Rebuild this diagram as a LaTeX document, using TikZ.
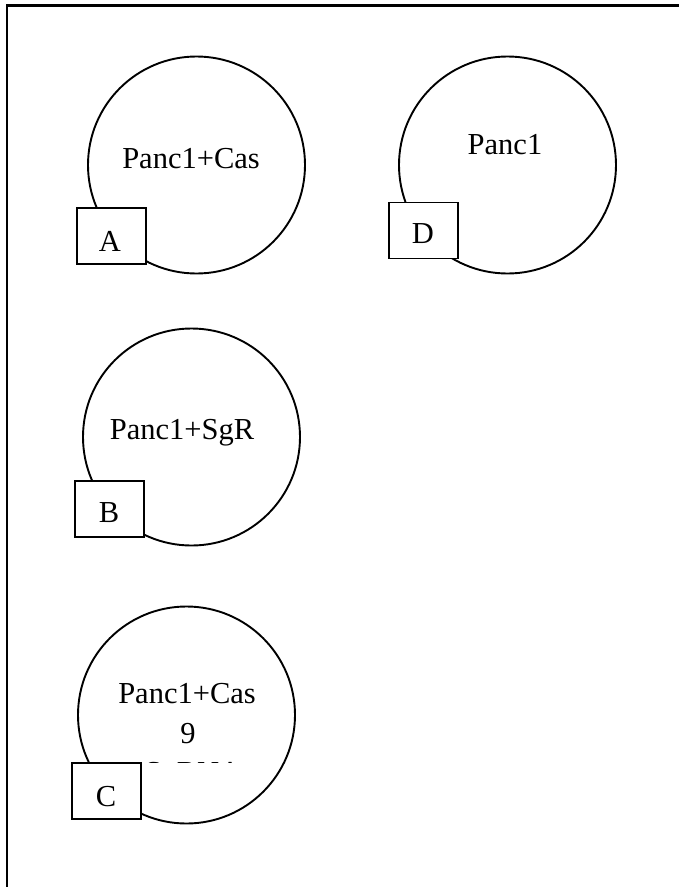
\documentclass[tikz,border=0pt]{standalone}
\usepackage{fontspec}
\setmainfont{Liberation Serif}
\tikzset{
  ring/.style={draw, line width=1.9pt, circle, minimum size=217pt, inner sep=0pt},
  tagbox/.style={draw, line width=1.9pt, fill=white, rectangle, minimum width=69pt, minimum height=56pt, inner sep=0pt},
  txt/.style={anchor=base, inner sep=0pt, font=\fontsize{30.5}{40}\selectfont},
  frameline/.style={line width=2.4pt}
}
\begin{document}
\begin{tikzpicture}[x=1pt, y=-1pt]
\useasboundingbox (0,0) rectangle (678,887);
\fill[white] (0,0) rectangle (678,887);
% outer frame (top and left edges)
\coordinate (ftl) at (7,5.5);
\coordinate (ftr) at (680,5.5);
\coordinate (fbl) at (7,890);
\draw[frameline] (ftr) -- (ftl) -- (fbl);

% circles
\node[ring] (cA) at (196.5,165) {};
\node[ring] (cD) at (507.5,165) {};
\node[ring] (cB) at (191.5,437) {};
\node[ring] (cC) at (186.5,715) {};

% circle texts
\node[txt] (tA) at (191,168) {Panc1+Cas};
\node[txt] (tD) at (505,154) {Panc1};
\node[txt] (tB) at (182,439) {Panc1+SgR};
\node[txt] (tC1) at (187,703) {Panc1+Cas};
\node[txt] (tC2) at (188,743) {9};
% third line of the C label, cut off by its text box
\begin{scope}
  \clip (100,740) rectangle (280,762.5);
  \node[txt] (tC3) at (193,782.6) {SgRNA};
\end{scope}

% tag boxes
\node[tagbox] (bA) at (111.5,236) {};
\node[tagbox] (bD) at (423.5,230.5) {};
\node[tagbox] (bB) at (109.5,509) {};
\node[tagbox] (bC) at (106.5,791) {};
\node[txt] (lA) at (110,251) {A};
\node[txt] (lD) at (423,243) {D};
\node[txt] (lB) at (109,522) {B};
\node[txt] (lC) at (106,806) {C};
\end{tikzpicture}
\end{document}
